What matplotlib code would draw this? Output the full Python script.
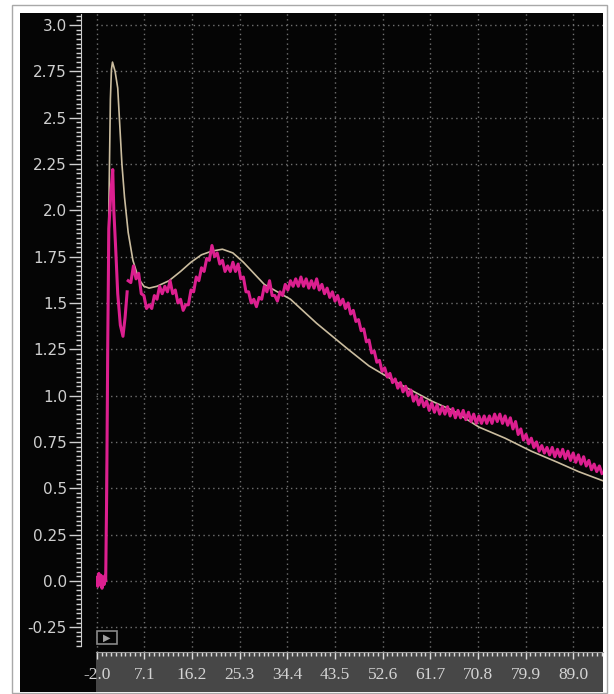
import numpy as np
import matplotlib.pyplot as plt
from matplotlib.patches import Rectangle

sig_x_head = [-2.0, -1.8, -1.6, -1.4, -1.2, -1.0, -0.8, -0.6, -0.4, -0.3,
              -0.1, 0.1, 0.3, 0.7, 1.05, 1.25, 1.6, 2.0, 2.5, 3.0, 3.4, 3.8]
sig_y_head = [0.02, -0.03, 0.04, -0.02, 0.03, -0.04, 0.02, -0.02, 0.03, 0.0,
              0.5, 1.3, 1.9, 2.1, 2.22, 2.0, 1.8, 1.55, 1.38, 1.32, 1.42, 1.56]
sig_x_tail = np.arange(4.0, 95.0, 0.5)
sig_y_tail = [
    1.62, 1.61, 1.70, 1.63, 1.66, 1.55, 1.54, 1.47, 1.49, 1.47,
    1.54, 1.52, 1.59, 1.55, 1.59, 1.56, 1.62, 1.55, 1.57, 1.50,
    1.52, 1.46, 1.49, 1.49, 1.57, 1.56, 1.64, 1.62, 1.69, 1.67,
    1.74, 1.73, 1.81, 1.75, 1.77, 1.71, 1.73, 1.67, 1.70, 1.67,
    1.72, 1.67, 1.71, 1.63, 1.64, 1.56, 1.56, 1.50, 1.52, 1.48,
    1.53, 1.52, 1.59, 1.56, 1.62, 1.54, 1.54, 1.51, 1.56, 1.54,
    1.60, 1.57, 1.62, 1.59, 1.63, 1.59, 1.64, 1.59, 1.63, 1.58,
    1.62, 1.58, 1.63, 1.57, 1.60, 1.55, 1.58, 1.53, 1.56, 1.51,
    1.54, 1.49, 1.52, 1.47, 1.50, 1.44, 1.46, 1.40, 1.41, 1.35,
    1.36, 1.29, 1.30, 1.23, 1.24, 1.18, 1.19, 1.13, 1.15, 1.10,
    1.12, 1.07, 1.09, 1.04, 1.07, 1.02, 1.05, 1.00, 1.03, 0.97,
    1.00, 0.95, 0.99, 0.94, 0.97, 0.92, 0.96, 0.91, 0.95, 0.90,
    0.94, 0.90, 0.94, 0.89, 0.93, 0.88, 0.92, 0.88, 0.92, 0.87,
    0.91, 0.86, 0.90, 0.85, 0.89, 0.85, 0.89, 0.85, 0.89, 0.85,
    0.90, 0.86, 0.90, 0.85, 0.89, 0.84, 0.88, 0.82, 0.86, 0.79,
    0.82, 0.76, 0.79, 0.74, 0.77, 0.72, 0.75, 0.70, 0.73, 0.69,
    0.72, 0.68, 0.72, 0.67, 0.71, 0.67, 0.71, 0.66, 0.70, 0.65,
    0.69, 0.64, 0.68, 0.63, 0.67, 0.62, 0.65, 0.60, 0.63, 0.59,
    0.62, 0.58]

# fitted model (beige)
fit_x = [-0.3, 0.0, 0.3, 0.6, 0.8, 1.0, 1.5, 2.0, 2.8, 3.3, 4.0, 4.9, 6.0,
         7.0, 8.0, 9.5, 11.8, 14.0, 16.0, 18.0, 20.0, 22.0, 24.0, 26.0, 28.0,
         30.0, 35.0, 40.0, 46.0, 50.0, 56.0, 62.0, 66.0, 71.0, 76.0, 81.0,
         86.0, 90.0, 94.7]
fit_y = [0.0, 0.9, 2.0, 2.6, 2.76, 2.80, 2.75, 2.66, 2.25, 2.07, 1.88, 1.73,
         1.63, 1.59, 1.58, 1.59, 1.62, 1.67, 1.72, 1.76, 1.78, 1.79, 1.77,
         1.72, 1.66, 1.60, 1.52, 1.39, 1.25, 1.16, 1.06, 0.97, 0.92, 0.83,
         0.77, 0.70, 0.64, 0.59, 0.54]

x_ticks = [-2.0, 7.1, 16.2, 25.3, 34.4, 43.5, 52.6, 61.7, 70.8, 79.9, 89.0]
y_ticks = [-0.25, 0.0, 0.25, 0.5, 0.75, 1.0, 1.25, 1.5, 1.75, 2.0, 2.25,
           2.5, 2.75, 3.0]
y_labels = ['-0.25', '0.0', '0.25', '0.5', '0.75', '1.0', '1.25', '1.5',
            '1.75', '2.0', '2.25', '2.5', '2.75', '3.0']

W, H = 614, 694
PX = 72 / 100  # points per pixel at dpi 100
fig = plt.figure(figsize=(W / 100, H / 100), dpi=100, facecolor='white')

# frame + black panel + grey x band (behind the axes)
fig.patches.append(Rectangle((11.5 / W, 1 / H), 595.5 / W, 688 / H, transform=fig.transFigure,
                             facecolor='white', edgecolor='#a8a8a8', lw=1, zorder=-3))
fig.patches.append(Rectangle((20 / W, 2 / H), 583 / W, 679 / H, transform=fig.transFigure,
                             facecolor='#050505', edgecolor='none', zorder=-2))
fig.patches.append(Rectangle((96 / W, 2 / H), 507 / W, 40 / H, transform=fig.transFigure,
                             facecolor='#474747', edgecolor='none', zorder=-1))

ax = fig.add_axes([96 / W, 42 / H, 507 / W, 639 / H])
ax.set_facecolor('#050505')

ax.tick_params(axis='x', which='major', direction='out', length=7 * PX, width=1,
               color='#dcdcdc', pad=8 * PX, labelcolor='#d4d4d4')
ax.tick_params(axis='x', which='minor', direction='out', length=4 * PX, width=1,
               color='#dcdcdc')
ax.tick_params(axis='y', which='major', direction='out', length=12 * PX, width=1,
               color='#cfcfcf', pad=2 * PX, labelcolor='#cfcfcf', labelsize=11)
ax.tick_params(axis='y', which='minor', direction='out', length=5 * PX, width=1,
               color='#cfcfcf')

ax.plot(fit_x, fit_y, color='#cbbd9f', lw=1.2, zorder=3)
ax.plot(sig_x_head, sig_y_head, color='#dc1f8f', lw=2.2, zorder=4)
ax.plot(sig_x_tail, sig_y_tail, color='#dc1f8f', lw=2.2, zorder=4)

ax.set_xlim(-2.15, 94.7)
ax.set_ylim(-0.384, 3.065)

ax.set_xticks(x_ticks)
ax.set_xticklabels([f'{v:.1f}' for v in x_ticks], family='Liberation Serif',
                   fontsize=12.5)
ax.set_xticks(np.arange(-2.0, 95.0, 0.91), minor=True)
ax.set_yticks(y_ticks)
ax.set_yticklabels(y_labels)
ax.set_yticks(np.arange(-0.35, 3.06, 0.025), minor=True)

for s in ['top', 'right']:
    ax.spines[s].set_visible(False)
ax.spines['left'].set_position(('outward', 15 * PX))
ax.spines['left'].set_color('#cfcfcf')
ax.spines['left'].set_bounds(-0.352, 3.06)
ax.spines['bottom'].set_color('#9a9a9a')

ax.grid(True, which='major', color='#707070', linestyle=(0, (1, 2.5)), lw=1)

# little play button
ax.add_patch(Rectangle((0.002, 0.0125), 0.039, 0.021, transform=ax.transAxes,
                       facecolor='#050505', edgecolor='#8a8a8a', lw=1.2, zorder=5))
ax.text(0.0215, 0.023, '\u25b6', transform=ax.transAxes, fontsize=7, color='#a0a0a0',
        ha='center', va='center', zorder=6)

fig.savefig('out.png', dpi=100, facecolor='white')
